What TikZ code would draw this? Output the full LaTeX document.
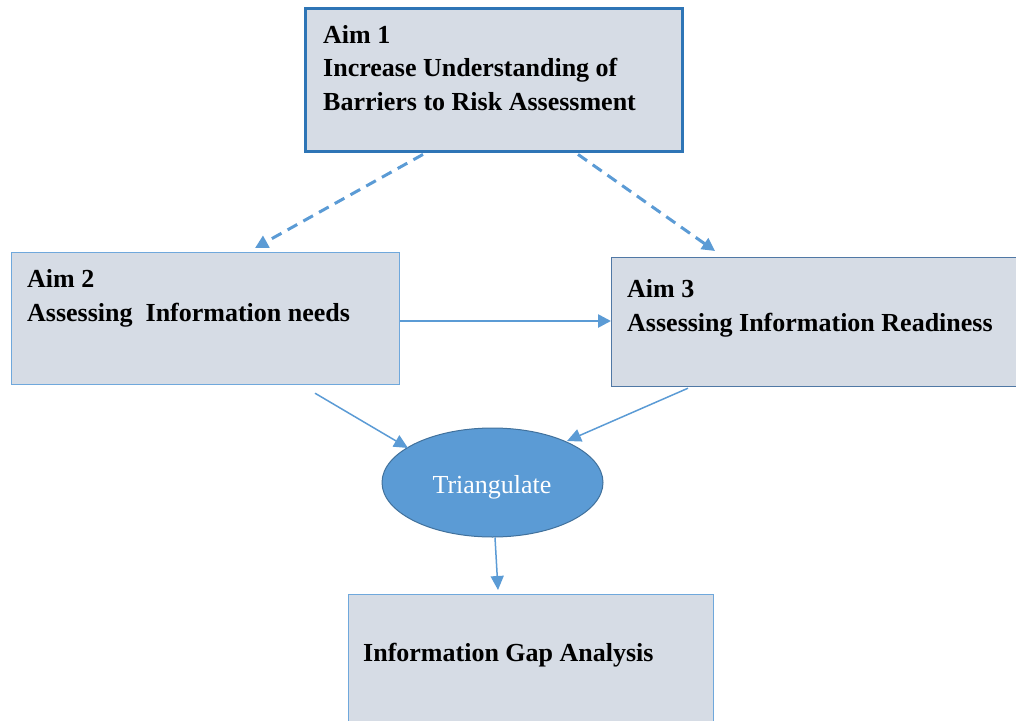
\documentclass[tikz,border=0pt]{standalone}
\usepackage{fontspec}
\setmainfont{Liberation Serif}
\usetikzlibrary{arrows.meta,shapes.geometric}
\definecolor{boxfill}{RGB}{214,220,229}
\definecolor{aimone}{RGB}{46,117,182}
\definecolor{lightedge}{RGB}{111,168,220}
\definecolor{darkedge}{RGB}{80,120,165}
\definecolor{ellfill}{RGB}{91,155,213}
\definecolor{elledge}{RGB}{65,113,156}
\definecolor{arrowcol}{RGB}{91,155,213}
\tikzset{
  aimbox/.style={draw, fill=boxfill, rectangle, inner sep=0pt},
  aimtext/.style={anchor=base west, inner sep=0pt, font=\fontsize{26}{33.5}\selectfont\bfseries, align=left},
  dasharrow/.style={draw=arrowcol, line width=3pt, dash pattern=on 11pt off 7pt, -{Triangle[length=13pt,width=13pt]}},
  thinarrow/.style={draw=arrowcol, line width=1.5pt, -{Triangle[length=14pt,width=13pt]}},
  thickarrow/.style={draw=arrowcol, line width=2.6pt, -{Triangle[length=13pt,width=13pt]}},
}
\begin{document}
\begin{tikzpicture}[x=1pt,y=-1pt]
\useasboundingbox (0,0) rectangle (1016,720);
% boxes
\node[aimbox, draw=aimone, line width=3.4pt, minimum width=377pt, minimum height=143pt, anchor=north west] (a1) at (304,7) {};
\node[aimbox, draw=lightedge, line width=1.2pt, minimum width=388pt, minimum height=132pt, anchor=north west] (a2) at (11,252) {};
\node[aimbox, draw=darkedge, line width=1.2pt, minimum width=420pt, minimum height=129pt, anchor=north west] (a3) at (611,257) {};
\node[aimbox, draw=lightedge, line width=1.2pt, minimum width=365pt, minimum height=140pt, anchor=north west] (gap) at (348,594) {};
\node[ellipse, draw=elledge, line width=1pt, fill=ellfill, minimum width=221pt, minimum height=109pt] (tri) at (492.5,482.5) {};
% texts (anchor = baseline of last line)
\node[aimtext] (t1) at (323,110) {Aim 1\\Increase Understanding of\\Barriers to Risk Assessment};
\node[aimtext] (t2) at (27,321) {Aim 2\\Assessing\ \ Information needs};
\node[aimtext] (t3) at (627,331) {Aim 3\\Assessing Information Readiness};
\node[aimtext] (t4) at (363,661) {Information Gap Analysis};
\node[anchor=base, inner sep=0pt, text=white, font=\fontsize{26}{30}\selectfont] (t5) at (492,493) {Triangulate};
% connectors
\draw[dasharrow] ([xshift=119pt,yshift=-1pt]a1.south west) -- ([xshift=244pt,yshift=4pt]a2.north west);
\draw[dasharrow] ([xshift=274pt,yshift=-1pt]a1.south west) -- ([xshift=104pt,yshift=6pt]a3.north west);
\draw[thickarrow] (a2.east |- 0,321) -- (a3.west |- 0,321);
\draw[thinarrow] ([xshift=304pt,yshift=-8pt]a2.south west) -- ([xshift=-84.5pt,yshift=34.5pt]tri.center);
\draw[thinarrow] ([xshift=77pt,yshift=-1pt]a3.south west) -- ([xshift=74.5pt,yshift=41.5pt]tri.center);
\draw[thinarrow] ([xshift=2.5pt]tri.south) -- ([xshift=150pt,yshift=4pt]gap.north west);
\end{tikzpicture}
\end{document}
